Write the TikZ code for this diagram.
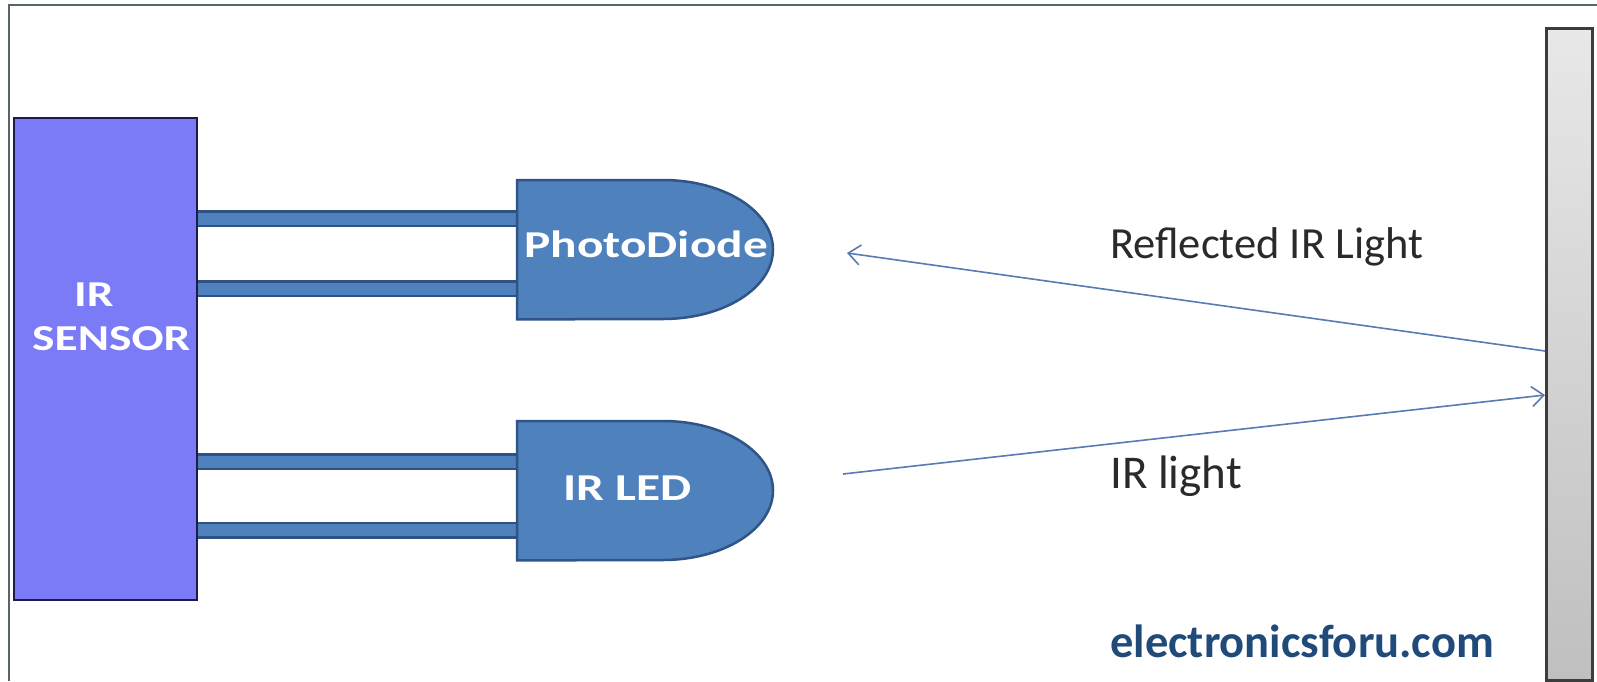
\documentclass[tikz,border=0pt]{standalone}
\usepackage{fontspec}
\setmainfont{Carlito}
\newfontfamily\widebold[FakeStretch=1.3]{Carlito}
\usetikzlibrary{arrows.meta}
\definecolor{framec}{HTML}{55656A}
\definecolor{sensorfill}{HTML}{7B7BF7}
\definecolor{sensordraw}{HTML}{1C1C4A}
\definecolor{diodefill}{HTML}{4F81BD}
\definecolor{diodedraw}{HTML}{2F5487}
\definecolor{wireout}{HTML}{2E5284}
\definecolor{raycol}{HTML}{5A7AB3}
\definecolor{labelcol}{HTML}{2A2A2A}
\definecolor{sitecol}{HTML}{1F4A7A}
\definecolor{bardraw}{HTML}{3C3C3C}
\tikzset{
  wire/.style={draw=wireout, line width=2.5pt, double=diodefill, double distance=12pt},
  diodebody/.style={fill=diodefill, draw=diodedraw, line width=2.5pt},
  ray/.style={draw=raycol, line width=1.6pt},
  whitelbl/.style={text=white, font=\widebold\bfseries\fontsize{38}{41}\selectfont, anchor=base west, inner sep=0pt},
  blacklbl/.style={text=labelcol, font=\fontsize{44.5}{48}\selectfont, anchor=base west, inner sep=0pt},
  holder/.style={rectangle, inner sep=0pt, minimum width=256pt, minimum height=139pt, anchor=north west}
}
\begin{document}
\begin{tikzpicture}[x=1pt, y=-1pt]
\useasboundingbox (0,0) rectangle (1597,681);
\fill[white] (0,0) rectangle (1597,681);
% frame
\draw[framec, line width=2.5pt] (9,681) -- (9,5) -- (1597,5);
% reflector bar
\node[rectangle, inner sep=0pt, minimum width=46pt, minimum height=652pt, anchor=north west,
      top color=gray!18, bottom color=gray!50, draw=bardraw, line width=3pt] (bar) at (1545,27) {};
% sensor
\node[rectangle, inner sep=0pt, minimum width=183pt, minimum height=482pt, anchor=north west,
      fill=sensorfill, draw=sensordraw, line width=2pt] (sensor) at (13,117) {};
% diode holders
\node[holder] (pd) at (517,180) {};
\node[holder] (led) at (517,421) {};
% wires
\draw[wire] (sensor.east |- {0,218.5}) -- (pd.west |- {0,218.5});
\draw[wire] (sensor.east |- {0,288.5}) -- (pd.west |- {0,288.5});
\draw[wire] (sensor.east |- {0,461.5}) -- (led.west |- {0,461.5});
\draw[wire] (sensor.east |- {0,530}) -- (led.west |- {0,530});
% diode bodies
\draw[diodebody] (pd.north west) -- ++(146,0) arc[start angle=90, end angle=-90, x radius=110pt, y radius=69.5pt] -- (pd.south west) -- cycle;
\draw[diodebody] (led.north west) -- ++(146,0) arc[start angle=90, end angle=-90, x radius=110pt, y radius=69.5pt] -- (led.south west) -- cycle;
% labels
\node[whitelbl, font=\widebold\bfseries\fontsize{36.5}{39}\selectfont] (irlbl) at (74,306) {IR};
\node[whitelbl, font=\widebold\bfseries\fontsize{36.5}{39}\selectfont] (senslbl) at (32,350) {SENSOR};
\node[whitelbl] (pdlbl) at (524,257) {PhotoDiode};
\node[whitelbl] (ledlbl) at (563,500) {IR LED};
% rays
\coordinate (rtip) at (847,253);
\coordinate (lstart) at (843,474);
\draw[ray, -{Straight Barb[length=12pt, width=20pt]}] (bar.west |- {0,351}) -- (rtip);
\draw[ray, -{Straight Barb[length=12pt, width=20pt]}] (lstart) -- (bar.west |- {0,395});
\node[blacklbl] (reflbl) at (1110,258) {Reflected IR Light};
\node[blacklbl, font=\fontsize{47}{50}\selectfont] (irllbl) at (1110,488) {IR light};
\node[anchor=base west, inner sep=0pt, text=sitecol, font=\bfseries\fontsize{46.5}{50}\selectfont] (site) at (1110,657) {electronicsforu.com};
\end{tikzpicture}
\end{document}
